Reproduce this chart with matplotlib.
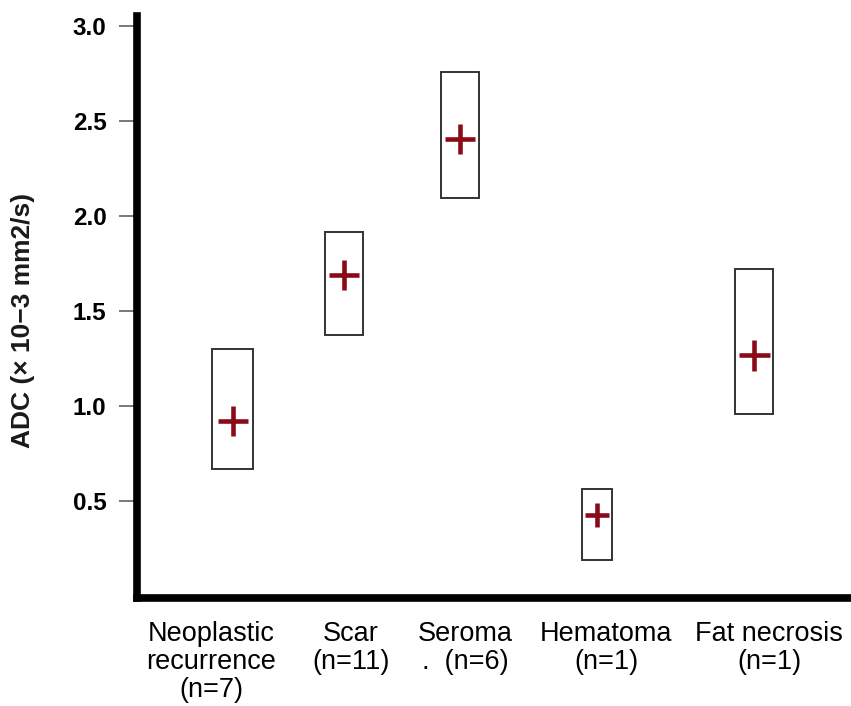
import matplotlib.pyplot as plt
from matplotlib.patches import Rectangle
from matplotlib.transforms import blended_transform_factory

plt.rcParams['font.family'] = ['Liberation Sans', 'DejaVu Sans']

# ADC values per lesion group (x 10^-3 mm2/s)
groups = ['Neoplastic\nrecurrence\n(n=7)', 'Scar\n(n=11)', 'Seroma\n.  (n=6)',
          'Hematoma\n(n=1)', 'Fat necrosis\n(n=1)']
box_low = [0.665, 1.372, 2.092, 0.188, 0.955]
box_high = [1.297, 1.915, 2.755, 0.562, 1.719]
means = [0.921, 1.686, 2.404, 0.425, 1.267]
yticks = [0.5, 1.0, 1.5, 2.0, 2.5, 3.0]

# layout: box centres, box widths, label centres, cross sizes
x_pos = [0.955, 2.07, 3.23, 4.60, 6.17]
box_w = [0.41, 0.38, 0.38, 0.30, 0.38]
label_pos = [0.74, 2.14, 3.28, 4.69, 6.32]
cross_px = [30, 30, 30, 24, 31]

fig = plt.figure(figsize=(8.51, 7.06), dpi=100)
ax = fig.add_axes([137 / 851, (706 - 598) / 706, 714 / 851, 582 / 706])

for x, w, lo, hi in zip(x_pos, box_w, box_low, box_high):
    ax.add_patch(Rectangle((x - w / 2, lo), w, hi - lo, fill=False,
                           edgecolor='#333333', linewidth=1.4))

for x, m, s in zip(x_pos, means, cross_px):
    ax.plot(x, m, marker='+', color='#8a0a1a', markersize=s * 0.72,
            markeredgewidth=3.3, linestyle='none')

ax.set_xlim(0, 7.14)
ax.set_ylim(-0.012, 3.05)

ax.spines['top'].set_visible(False)
ax.spines['right'].set_visible(False)
for side in ['left', 'bottom']:
    ax.spines[side].set_linewidth(5.5)
    ax.spines[side].set_color('black')
    ax.spines[side].set_capstyle('projecting')

ax.set_xticks([])
ax.set_yticks(yticks)
ax.set_yticklabels([f'{t:.1f}' for t in yticks], fontsize=17.5, fontweight='bold')
ax.tick_params(axis='y', length=13, width=1.1, color='#555555', pad=9)

trans = blended_transform_factory(ax.transData, ax.transAxes)
for lp, g in zip(label_pos, groups):
    ax.text(lp, -0.039, g, transform=trans, ha='center', va='top',
            fontsize=19.5, linespacing=1.1, color='black')

fig.text(23 / 851, 1 - 320 / 706, 'ADC (× 10−3 mm2/s)', rotation=90,
         ha='center', va='center', fontsize=19, fontweight='bold', color='#1a1a1a')

fig.savefig('out.png', dpi=100)
